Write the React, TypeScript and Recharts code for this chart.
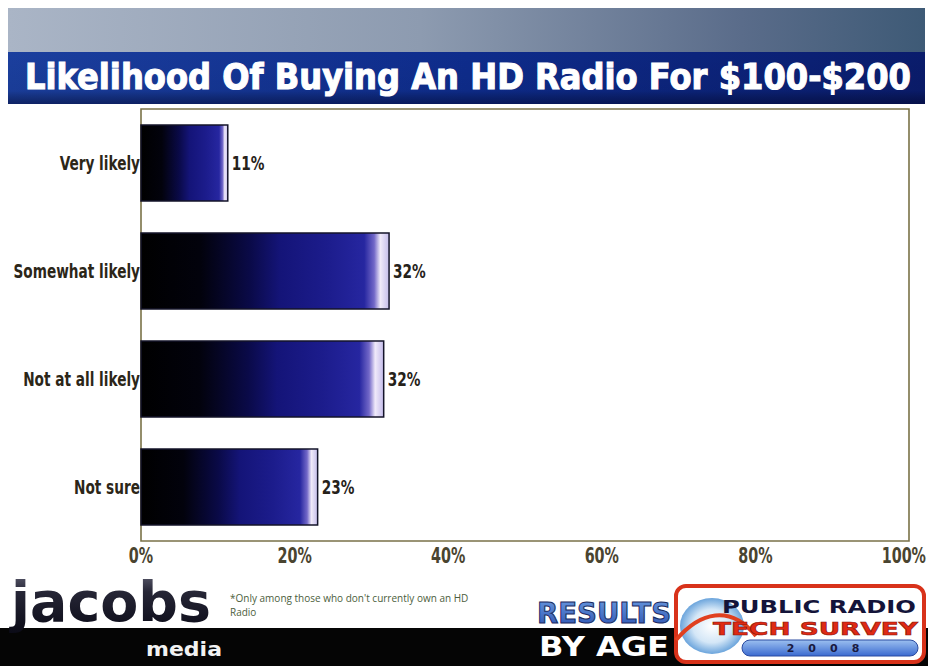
import React from 'react';
import { BarChart, Bar, XAxis, YAxis, LabelList, ReferenceArea } from 'recharts';

const categories = ['Very likely', 'Somewhat likely', 'Not at all likely', 'Not sure'];
const values = [11.3, 32.3, 31.6, 23.0];
const xTicks = [0, 20, 40, 60, 80, 100];
const titleText = 'Likelihood Of Buying An HD Radio For $100-$200';
const footnoteLines = ["*Only among those who don't currently own an HD", 'Radio'];

const data = categories.map((c, i) => ({ label: c, value: values[i] }));

const NARROW = '"Liberation Sans Narrow", "DejaVu Sans Condensed", "Noto Sans", sans-serif';
const HEAVY = '"DejaVu Sans", "Noto Sans", sans-serif';
const SQUEEZE = 0.76;

function YTick(props: any) {
  const { x, y, payload } = props;
  return (
    <g transform={`translate(${x},${y}) scale(${SQUEEZE},1)`}>
      <text x={0} y={0} dy="0.355em" textAnchor="end" fill="#2c2618" fontSize={20} fontWeight={700} fontFamily={NARROW}>
        {payload.value}
      </text>
    </g>
  );
}

function XTick(props: any) {
  const { x, y, payload, index } = props;
  const isLast = index === xTicks.length - 1;
  return (
    <g transform={`translate(${isLast ? 926 : x},${y}) scale(${SQUEEZE},1)`}>
      <text
        x={0}
        y={0}
        dy="0.71em"
        textAnchor={isLast ? 'end' : 'middle'}
        fill="#4a4430"
        fontSize={21}
        fontWeight={700}
        fontFamily={NARROW}
      >
        {`${payload.value}%`}
      </text>
    </g>
  );
}

function ValueLabel(props: any) {
  const { x, y, width, height, value } = props;
  const lx = Number(x) + Number(width) + 4;
  const ly = Number(y) + Number(height) / 2;
  return (
    <g transform={`translate(${lx},${ly}) scale(${SQUEEZE},1)`}>
      <text x={0} y={0} dy="0.355em" textAnchor="start" fill="#26221a" fontSize={20} fontWeight={700} fontFamily={NARROW}>
        {`${Math.round(Number(value))}%`}
      </text>
    </g>
  );
}

function Decorations() {
  return (
    <svg width={928} height={666} style={{ position: 'absolute', left: 0, top: 0 }}>
      <defs>
        <linearGradient id="grayBand" x1="0" y1="0" x2="1" y2="0">
          <stop offset="0" stopColor="#aab5c6" />
          <stop offset="0.45" stopColor="#8d9bb0" />
          <stop offset="0.8" stopColor="#5a6c8a" />
          <stop offset="1" stopColor="#3e5a76" />
        </linearGradient>
        <linearGradient id="blueBand" x1="0" y1="0" x2="1" y2="0">
          <stop offset="0" stopColor="#1b3f9e" />
          <stop offset="0.5" stopColor="#0e2c8c" />
          <stop offset="1" stopColor="#0a1c6c" />
        </linearGradient>
        <linearGradient id="blueShade" x1="0" y1="0" x2="0" y2="1">
          <stop offset="0" stopColor="#000000" stopOpacity="0" />
          <stop offset="0.75" stopColor="#000000" stopOpacity="0.05" />
          <stop offset="1" stopColor="#000020" stopOpacity="0.45" />
        </linearGradient>
        <linearGradient id="jacobsGrad" x1="0" y1="0" x2="0" y2="1">
          <stop offset="0" stopColor="#6a6a7c" />
          <stop offset="0.35" stopColor="#262636" />
          <stop offset="1" stopColor="#0a0a16" />
        </linearGradient>
        <linearGradient id="resultsGrad" x1="0" y1="0" x2="0" y2="1">
          <stop offset="0" stopColor="#6a9ae0" />
          <stop offset="1" stopColor="#2a50b0" />
        </linearGradient>
        <linearGradient id="pillGrad" x1="0" y1="0" x2="0" y2="1">
          <stop offset="0" stopColor="#9cc0f0" />
          <stop offset="1" stopColor="#3a6ad0" />
        </linearGradient>
        <radialGradient id="globeGrad" cx="0.5" cy="0.5" r="0.5">
          <stop offset="0" stopColor="#ffffff" />
          <stop offset="0.6" stopColor="#cfe4f6" />
          <stop offset="1" stopColor="#5a9ad8" />
        </radialGradient>
      </defs>
      {/* header */}
      <rect x={8} y={8} width={917} height={45} fill="url(#grayBand)" />
      <rect x={8} y={52} width={917} height={52} fill="url(#blueBand)" />
      <rect x={8} y={52} width={917} height={52} fill="url(#blueShade)" />
      <g transform="translate(25,89) scale(1,1.12)">
        <text
          x={0}
          y={0}
          fill="#ffffff"
          stroke="#ffffff"
          strokeWidth={1}
          fontFamily={HEAVY}
          fontWeight={900}
          fontSize={31}
          textLength={886}
          lengthAdjust="spacingAndGlyphs"
        >
          {titleText}
        </text>
      </g>
      {/* footer black band */}
      <rect x={0} y={628} width={928} height={38} fill="#050505" />
      {/* jacobs logo */}
      <text
        x={11}
        y={621}
        fill="url(#jacobsGrad)"
        fontFamily={HEAVY}
        fontWeight={900}
        fontSize={56}
        textLength={200}
        lengthAdjust="spacingAndGlyphs"
      >
        jacobs
      </text>
      <text
        x={146}
        y={656}
        fill="#f2f2f2"
        fontFamily={HEAVY}
        fontWeight={900}
        fontSize={20}
        textLength={76}
        lengthAdjust="spacingAndGlyphs"
      >
        media
      </text>
      {/* footnote */}
      {footnoteLines.map((line, i) => (
        <text
          key={i}
          x={230}
          y={602 + i * 14}
          fill="#4c5e3c"
          fontFamily={'"Open Sans", "DejaVu Sans", sans-serif'}
          fontSize={10}
        >
          {line}
        </text>
      ))}
      {/* RESULTS BY AGE */}
      <text
        x={537}
        y={623}
        fill="url(#resultsGrad)"
        stroke="#1a2a60"
        strokeWidth={1}
        fontFamily={HEAVY}
        fontWeight={900}
        fontSize={28}
        textLength={134}
        lengthAdjust="spacingAndGlyphs"
      >
        RESULTS
      </text>
      <text
        x={539}
        y={656}
        fill="#ffffff"
        fontFamily={HEAVY}
        fontWeight={900}
        fontSize={27}
        textLength={130}
        lengthAdjust="spacingAndGlyphs"
      >
        BY AGE
      </text>
      {/* survey logo box */}
      <rect x={676} y={586} width={248} height={76} rx={10} fill="#ffffff" stroke="#d8321a" strokeWidth={4} />
      <ellipse cx={712} cy={626} rx={32} ry={28} fill="url(#globeGrad)" opacity={0.9} />
      <path d="M676 640 C 700 612, 730 604, 756 636" stroke="#e04020" strokeWidth={4} fill="none" />
      <text
        x={722}
        y={613}
        fill="#14143a"
        fontFamily={HEAVY}
        fontWeight={900}
        fontSize={18}
        textLength={194}
        lengthAdjust="spacingAndGlyphs"
      >
        PUBLIC RADIO
      </text>
      <text
        x={713}
        y={635}
        fill="#e02a14"
        stroke="#8a1408"
        strokeWidth={0.6}
        fontFamily={HEAVY}
        fontWeight={900}
        fontSize={18}
        textLength={205}
        lengthAdjust="spacingAndGlyphs"
      >
        TECH SURVEY
      </text>
      <rect x={742} y={640} width={176} height={16} rx={8} fill="url(#pillGrad)" stroke="#2a4aa0" strokeWidth={1} />
      <text
        x={830}
        y={652}
        textAnchor="middle"
        fill="#1a1a40"
        fontFamily={HEAVY}
        fontWeight={900}
        fontSize={11}
        letterSpacing={14}
      >
        2008
      </text>
    </svg>
  );
}

export default function App() {
  return (
    <div style={{ position: 'absolute', left: 0, top: 0, width: 928, height: 666, background: '#ffffff', overflow: 'hidden' }}>
      <Decorations />
      <div style={{ position: 'absolute', left: 0, top: 0 }}>
        <BarChart
          width={928}
          height={666}
          data={data}
          layout="vertical"
          margin={{ top: 109, right: 19, bottom: 95, left: 11 }}
          barCategoryGap={0}
        >
          <defs>
            <linearGradient id="barGrad" x1="0" y1="0" x2="1" y2="0">
              <stop offset="0" stopColor="#000000" />
              <stop offset="0.24" stopColor="#02020c" />
              <stop offset="0.44" stopColor="#0a0a48" />
              <stop offset="0.56" stopColor="#141478" />
              <stop offset="0.75" stopColor="#1c1c8c" />
              <stop offset="0.9" stopColor="#2626a0" />
              <stop offset="0.94" stopColor="#7268c8" />
              <stop offset="0.965" stopColor="#f0eafa" />
              <stop offset="1" stopColor="#c4bcea" />
            </linearGradient>
          </defs>
          <XAxis
            type="number"
            domain={[0, 100]}
            ticks={xTicks}
            tickLine={false}
            axisLine={false}
            tickSize={0}
            tickMargin={7}
            height={30}
            interval={0}
            tick={<XTick />}
          />
          <YAxis
            type="category"
            dataKey="label"
            width={130}
            tickLine={false}
            axisLine={false}
            tickSize={0}
            tickMargin={1}
            interval={0}
            tick={<YTick />}
          />
          <ReferenceArea x1={0} x2={100} fill="none" stroke="#7a7248" strokeWidth={1.6} ifOverflow="visible" />
          <Bar
            dataKey="value"
            barSize={76}
            fill="url(#barGrad)"
            stroke="#14142a"
            strokeWidth={1.5}
            isAnimationActive={false}
          >
            <LabelList dataKey="value" content={<ValueLabel />} />
          </Bar>
        </BarChart>
      </div>
    </div>
  );
}
